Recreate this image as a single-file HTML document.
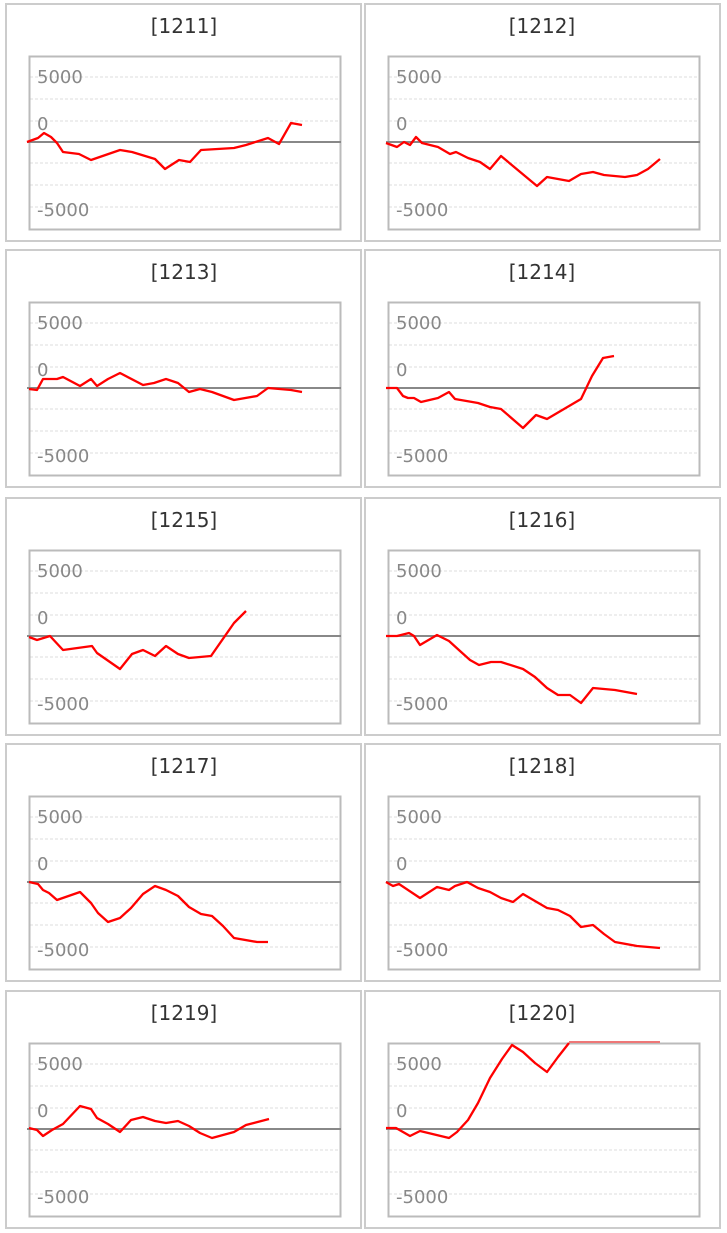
<!DOCTYPE html>
<html><head><meta charset="utf-8"><style>
html,body{margin:0;padding:0;background:#fff;}
svg{display:block;}
.t{font-family:"DejaVu Sans","Liberation Sans",sans-serif;font-size:20px;fill:#333;text-anchor:middle;}
.l{font-family:"DejaVu Sans","Liberation Sans",sans-serif;font-size:18px;fill:#888;}
.g{stroke:#ddd;stroke-width:1;stroke-dasharray:3,2;}
.s{fill:none;stroke:#f00;stroke-width:2.3;stroke-linejoin:round;}
</style></head><body>
<svg width="727" height="1233" viewBox="0 0 727 1233" xmlns="http://www.w3.org/2000/svg">
<defs>
<g id="fr">
<rect x="1" y="1" width="355" height="237" fill="#fff" stroke="#ccc" stroke-width="2"/>
<line class="g" x1="25" x2="335" y1="74" y2="74"/>
<line class="g" x1="25" x2="335" y1="96" y2="96"/>
<line class="g" x1="25" x2="335" y1="118" y2="118"/>
<line class="g" x1="25" x2="335" y1="160" y2="160"/>
<line class="g" x1="25" x2="335" y1="182" y2="182"/>
<line class="g" x1="25" x2="335" y1="204" y2="204"/>
<rect x="24.5" y="53.5" width="311" height="173" fill="none" stroke="#bbb" stroke-width="2"/>
<line x1="22" x2="336" y1="139" y2="139" stroke="#888" stroke-width="2"/>
<text class="l" x="32" y="80">5000</text>
<text class="l" x="32" y="127">0</text>
<text class="l" x="32" y="213">-5000</text>
</g>
</defs>
<use href="#fr" x="5" y="3"/><use href="#fr" x="364" y="3"/>
<use href="#fr" x="5" y="249"/><use href="#fr" x="364" y="249"/>
<use href="#fr" x="5" y="497"/><use href="#fr" x="364" y="497"/>
<use href="#fr" x="5" y="743"/><use href="#fr" x="364" y="743"/>
<use href="#fr" x="5" y="990"/><use href="#fr" x="364" y="990"/>
<text class="t" x="184" y="33">[1211]</text><text class="t" x="542" y="33">[1212]</text>
<text class="t" x="184" y="279">[1213]</text><text class="t" x="542" y="279">[1214]</text>
<text class="t" x="184" y="527">[1215]</text><text class="t" x="542" y="527">[1216]</text>
<text class="t" x="184" y="773">[1217]</text><text class="t" x="542" y="773">[1218]</text>
<text class="t" x="184" y="1020">[1219]</text><text class="t" x="542" y="1020">[1220]</text>

<polyline class="s" points="27,142 38,138 44,133 51,137 57,143 63,152 79,154 91,160 120,150 132,152 155,159 165,169 179,160 190,162 201,150 234,148 246,145 268,138 279,144 291,123 302,125"/>
<polyline class="s" points="386,143 397,147 404,142 410,145 416,137 422,143 438,147 450,154 456,152 468,158 480,162 490,169 501,156 537,186 547,177 569,181 581,174 593,172 604,175 625,177 637,175 648,169 660,159"/>
<polyline class="s" points="29,389 37,390 43,379 57,379 63,377 80,386 91,379 97,386 108,379 120,373 143,385 154,383 166,379 178,383 189,392 200,389 212,392 234,400 257,396 268,388 291,390 302,392"/>
<polyline class="s" points="386,388 397,388 403,396 408,398 414,398 421,402 438,398 449,392 455,399 478,403 490,407 501,409 523,428 536,415 547,419 581,399 592,376 603,358 614,356"/>
<polyline class="s" points="29,637 37,640 50,636 63,650 92,646 97,653 120,669 132,654 143,650 155,656 166,646 178,654 189,658 211,656 234,623 246,611"/>
<polyline class="s" points="386,636 397,636 409,633 414,636 420,645 437,635 449,641 460,651 470,660 479,665 491,662 501,662 523,669 535,677 547,688 558,695 570,695 581,703 593,688 615,690 637,694"/>
<polyline class="s" points="29,882 38,884 43,890 49,893 57,900 80,892 91,903 98,913 108,922 120,918 131,908 143,894 155,886 166,890 178,896 189,907 201,914 212,916 223,926 234,938 257,942 268,942"/>
<polyline class="s" points="386,882 393,886 399,884 420,898 437,887 449,890 455,886 467,882 478,888 490,892 501,898 513,902 523,894 547,908 558,910 570,916 581,927 593,925 604,934 615,942 637,946 660,948"/>
<polyline class="s" points="29,1128 37,1130 43,1136 52,1130 63,1124 80,1106 91,1109 97,1118 108,1124 120,1132 131,1120 143,1117 155,1121 166,1123 178,1121 189,1126 200,1133 212,1138 234,1132 246,1125 269,1119"/>
<polyline class="s" points="386,1128 396,1128 410,1136 420,1131 449,1138 457,1132 468,1120 478,1103 490,1078 502,1059 512,1045 523,1052 535,1063 547,1072 558,1057 569,1043"/>
<line x1="569" x2="660" y1="1042" y2="1042" stroke="#e77" stroke-width="2"/>
</svg>
</body></html>
